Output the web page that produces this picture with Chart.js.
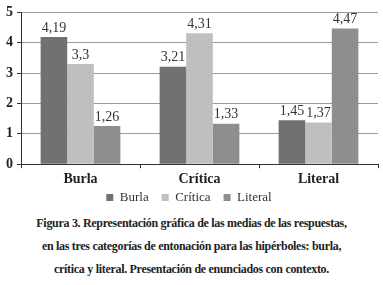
<!DOCTYPE html>
<html lang="es">
<head>
  <title>Medias de las respuestas</title>
  <script type="text/javascript" src="https://cdn.jsdelivr.net/npm/chart.js"></script>
  <style>
    body { margin: 0; background: #fff; width: 383px; }
    #wrap { position: relative; width: 383px; height: 214px; }
    #caption {
      font-family: "Liberation Serif", "DejaVu Serif", serif;
      font-weight: bold;
      font-size: 12px;
      letter-spacing: -0.3px;
      line-height: 23px;
      text-align: center;
      color: #222;
      margin-top: -2px;
    }
  </style>
</head>
<body>

<div id="wrap"><canvas id="chart"></canvas></div>
<div id="caption">
  Figura 3. Representación gráfica de las medias de las respuestas,<br>
  en las tres categorías de entonación para las hipérboles: burla,<br>
  crítica y literal. Presentación de enunciados con contexto.
</div>

<script>
  // categories and series
  const categories = ['Burla', 'Crítica', 'Literal'];
  const burla = [4.19, 3.21, 1.45];
  const critica = [3.3, 4.31, 1.37];
  const literal = [1.26, 1.33, 4.47];
  const seriesNames = ['Burla', 'Crítica', 'Literal'];
  const yTicks = [0, 1, 2, 3, 4, 5];

  const serif = '"Liberation Serif", "DejaVu Serif", serif';

  // draws the value above each bar, with a decimal comma
  const valueLabels = {
    id: 'valueLabels',
    afterDatasetsDraw(chart) {
      const ctx = chart.ctx;
      ctx.save();
      ctx.font = '14px ' + serif;
      ctx.fillStyle = '#333';
      ctx.textAlign = 'center';
      ctx.textBaseline = 'bottom';
      chart.data.datasets.forEach((ds, i) => {
        chart.getDatasetMeta(i).data.forEach((bar, j) => {
          ctx.fillText(String(ds.data[j]).replace('.', ','), bar.x, bar.y - 2);
        });
      });
      ctx.restore();
    }
  };

  new Chart(document.getElementById('chart'), {
    type: 'bar',
    data: {
      labels: categories,
      datasets: [
        { label: seriesNames[0], data: burla, backgroundColor: '#717171' },
        { label: seriesNames[1], data: critica, backgroundColor: '#bfbfbf' },
        { label: seriesNames[2], data: literal, backgroundColor: '#8e8e8e' }
      ]
    },
    options: {
      responsive: true,
      maintainAspectRatio: false,
      animation: false,
      layout: { padding: { top: 7, right: 5, left: 0, bottom: 0 } },
      datasets: { bar: { barPercentage: 1, categoryPercentage: 0.67 } },
      plugins: {
        legend: {
          position: 'bottom',
          labels: {
            boxWidth: 7, boxHeight: 7, padding: 0,
            font: { family: serif, size: 13 }, color: '#333',
            // padding 0 keeps the legend tight to the axis; space items with a trailing gap instead
            generateLabels: chart => {
              const items = Chart.defaults.plugins.legend.labels.generateLabels(chart);
              items.forEach((it, i) => { if (i < items.length - 1) it.text += '\u2003'; });
              return items;
            }
          }
        },
        tooltip: { enabled: false }
      },
      scales: {
        x: {
          grid: { drawOnChartArea: false, tickLength: 4, color: '#333', offset: true },
          border: { color: '#333' },
          ticks: { font: { family: serif, size: 14, weight: 'bold' }, color: '#222', padding: 3 }
        },
        y: {
          min: 0, max: 5,
          afterBuildTicks: axis => { axis.ticks = yTicks.map(v => ({ value: v })); },
          afterFit: axis => { axis.width = 21; },
          grid: { color: '#9a9a9a', tickLength: 4, tickColor: '#333' },
          border: { color: '#333' },
          ticks: { font: { family: serif, size: 14, weight: 'bold' }, color: '#222', padding: 4 }
        }
      }
    },
    plugins: [valueLabels]
  });
</script>

</body>
</html>
